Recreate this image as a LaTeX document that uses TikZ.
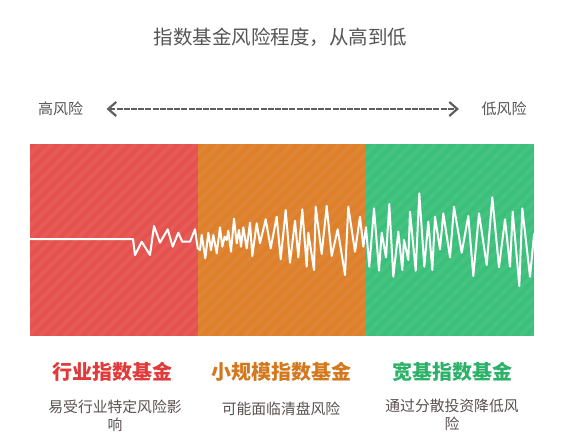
\documentclass[tikz,border=0pt]{standalone}
\usepackage{fontspec}
\newfontfamily\cjk{Noto Sans CJK SC}
\usetikzlibrary{arrows.meta}
\definecolor{riskred}{RGB}{229,81,77}
\definecolor{riskorange}{RGB}{222,127,42}
\definecolor{riskgreen}{RGB}{58,192,122}
\definecolor{namered}{RGB}{224,58,58}
\definecolor{nameorange}{RGB}{212,120,30}
\definecolor{namegreen}{RGB}{44,178,104}
\definecolor{textgray}{RGB}{85,85,85}
\definecolor{notegray}{RGB}{90,80,80}
\definecolor{arrowgray}{RGB}{95,95,95}
\begin{document}
\begin{tikzpicture}[x=1pt,y=-1pt,
  panel/.style={minimum width=168pt,minimum height=192pt,inner sep=0pt,outer sep=0pt},
  stripe/.style={white,opacity=0.06,line width=4pt},
  fundname/.style={font=\cjk\bfseries\fontsize{20}{23}\selectfont},
  fundnote/.style={font=\cjk\fontsize{14.8}{18}\selectfont,text=notegray,align=center},
  riskend/.style={font=\cjk\fontsize{15}{18}\selectfont,text=textgray}]
\useasboundingbox (0,0) rectangle (581,445);

\node[font=\cjk\fontsize{19.5}{22}\selectfont,text=textgray] (title) at (280.5,37) {指数基金风险程度，从高到低};

% risk direction
\node[riskend] (high) at (60.5,109) {高风险};
\node[riskend] (low) at (504,109) {低风险};
\draw[arrowgray,line width=2.2pt,dash pattern=on 6pt off 1.2pt,
  {Straight Barb[length=8pt,width=14pt]}-{Straight Barb[length=8pt,width=14pt]}]
  ([xshift=20pt]high.east) -- ([xshift=-19pt]low.west);

% panels
\node[panel,fill=riskred] (pRed) at (114,240) {};
\node[panel,fill=riskorange] (pOrange) at (282,240) {};
\node[panel,fill=riskgreen] (pGreen) at (450,240) {};

\begin{scope}
\clip (pRed.north west) rectangle (pGreen.south east);
\foreach \i in {-200,-188,...,540}
  \draw[stripe] (\i,336) -- ++(192,-192);
\draw[white,line width=2pt,line join=round] plot coordinates {
  (30,239) (133,239) (135,255) (141.7,241.7) (150,255) (154,226) (160,242.7)
  (167.7,229.3) (172.7,246.7) (178.3,232.7) (182.3,241.7) (190,241.7)
  (195,229.3) (197.7,248.3) (200,250) (201.7,235) (205.3,258.3) (208.3,232.7)
  (211,250) (213.3,235) (216.7,253.3) (220,227.3) (222.3,246.7) (224.7,236.7)
  (226.7,240) (228.3,230.7) (231,251.7) (234,218.7) (236.7,243.3) (239,230)
  (241,246.7) (243.3,227.3) (246.7,248.3) (250,222.7) (252.3,256) (256.7,223.3)
  (260,243.3) (265.7,219.3) (270.7,248.3) (276.7,216.7) (280.7,259.3)
  (285.7,210) (290,262.7) (295,220.7) (298.3,257.3) (302.3,209.3) (306.7,266.7)
  (308.3,232.7) (314,270) (315.7,206.7) (321.7,254) (326.7,206) (331.7,256)
  (337.7,229.3) (345,275) (348.3,206.7) (355,251.7) (360,216.7) (363.3,246.7)
  (366,227.3) (369.3,266.7) (374,208.3) (379,270.7) (381.7,232.7) (386,257.3)
  (389.3,204) (393.3,276.7) (398.3,231.7) (402.3,270) (404,240) (408.3,260)
  (410,211.7) (415.7,270.7) (419.3,193.3) (424.3,266.7) (428.3,221.7)
  (432.3,270) (435,216.7) (440,249.3) (443.3,213.3) (450,257.3) (454,206.7)
  (461.7,252.7) (468.3,216) (473.3,276) (479,213.3) (486.7,265) (492.3,197.3)
  (499,267.3) (505,219.3) (510,266.7) (512.7,211.7) (519.3,286) (522.3,208.3)
  (530,276.7) (534,235) (536,230)};
\end{scope}

% fund names and notes
\node[fundname,text=namered] (nRed) at (112,372) {行业指数基金};
\node[fundname,text=nameorange] (nOrange) at (281,372) {小规模指数基金};
\node[fundname,text=namegreen] (nGreen) at (452,372) {宽基指数基金};
\node[fundnote,anchor=north] (tRed) at (115,396) {易受行业特定风险影\\响};
\node[fundnote,anchor=north] (tOrange) at (281,398) {可能面临清盘风险};
\node[fundnote,anchor=north] (tGreen) at (452,396) {通过分散投资降低风\\险};
\end{tikzpicture}
\end{document}
